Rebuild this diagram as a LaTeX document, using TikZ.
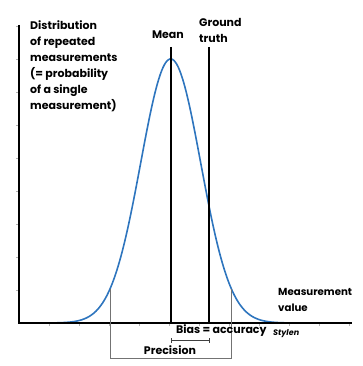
\documentclass[tikz,border=0pt]{standalone}
\usepackage{fontspec}
\setmainfont{Poppins}
\begin{document}
\begin{tikzpicture}[x=1pt,y=-1pt,
  lbl/.style={font=\bfseries\fontsize{11}{16}\selectfont, inner sep=0pt, align=left},
  axis/.style={line width=1.5pt, black},
  vline/.style={line width=1.6pt, black},
  thin/.style={line width=0.7pt, black!55},
  tick/.style={line width=0.4pt, black!30},
  curve/.style={line width=1.6pt, color={rgb,255:red,46;green,117;blue,190}}]
\useasboundingbox (0,0) rectangle (363,366);
% axes
\coordinate (ytop) at (19,25);
\coordinate (origin) at (19,323);
\coordinate (xend) at (352,323);
\foreach \i in {1,...,11} \draw[tick] (19+30*\i,323) -- ++(0,3);
\foreach \i in {1,...,9} \draw[tick] (19,323-33*\i) -- ++(-3,0);
% curve
\draw[curve] plot[domain=19:292, samples=200] (\x, {323-264*exp(-0.5*((\x-170.7)/30)^2)});
\draw[axis] (ytop) -- (origin) -- (xend);
% mean & ground truth
\coordinate (meantop) at (171,47);
\coordinate (meanbot) at (171,323);
\coordinate (gttop) at (209,47);
\coordinate (gtbot) at (209,323);
\draw[vline] (meantop) -- (meanbot);
\draw[vline] (gttop) -- (gtbot);
% precision
\coordinate (pl) at (110,289);
\coordinate (pr) at (231,289);
\coordinate (plb) at (110,358);
\coordinate (prb) at (231,358);
\draw[thin] (pl) -- (plb) -- (prb) -- (pr);
% bias bracket
\coordinate (bl) at (171,340);
\coordinate (br) at (209,340);
\draw[line width=1pt, black!75] (bl) -- (br);
\draw[line width=0.8pt, black!75] ([yshift=-2.5pt]bl) -- ([yshift=2.5pt]bl);
\draw[line width=0.8pt, black!75] ([yshift=-2.5pt]br) -- ([yshift=2.5pt]br);
% labels
\node[lbl, anchor=north west] (ylab) at (30,20) {Distribution\\of repeated\\measurements\\(= probability\\of a single\\measurement)};
\node[lbl, anchor=north] (mean) at (168,30.5) {Mean};
\node[lbl, anchor=north west] (gt) at (199,18.5) {Ground\\truth};
\node[lbl, font=\bfseries\fontsize{10.2}{16}\selectfont, anchor=north west] (mv) at (278,288) {Measurement\\value};
\node[lbl, anchor=west] (bias) at (176,331) {Bias = accuracy};
\node[lbl, anchor=north] (prec) at (170,345) {Precision};
\node[font=\rmfamily\itshape\bfseries\fontsize{8}{9}\selectfont, inner sep=0pt, anchor=west] (sty) at (273,333.5) {Stylen};
\end{tikzpicture}
\end{document}
